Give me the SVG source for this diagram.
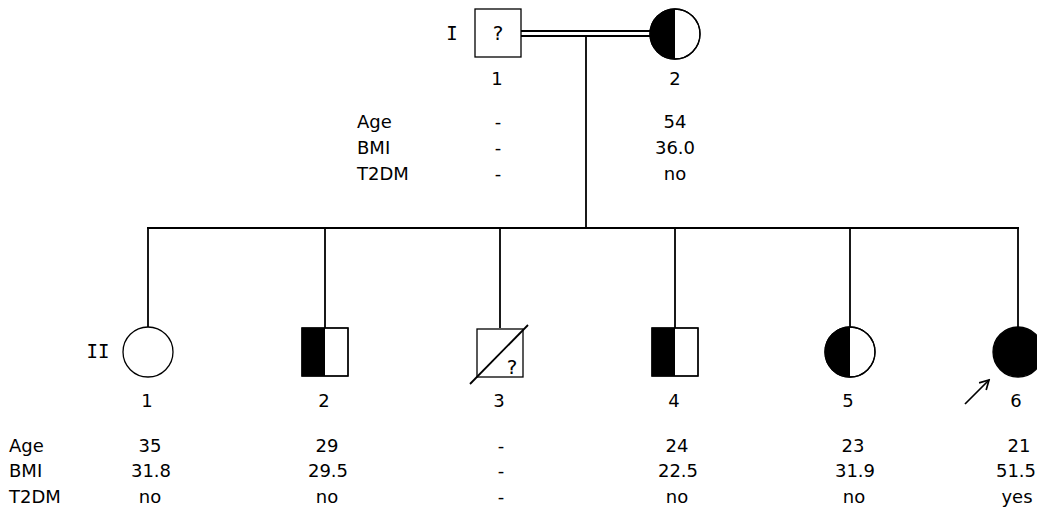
<svg xmlns="http://www.w3.org/2000/svg" width="1037" height="510" viewBox="0 0 1037 510">
<style>
text{font-family:"DejaVu Sans","Liberation Sans",sans-serif;font-size:18px;fill:#000}
.c{text-anchor:middle}
.q{font-size:20px}
.r{font-family:"DejaVu Sans Mono","Liberation Mono",monospace;font-size:19px;text-anchor:middle}
.s{fill:#fff;stroke:#000;stroke-width:1.3}
.k{fill:#000;stroke:none}
.ln{stroke:#000;stroke-width:1.8;fill:none}
</style>
<defs>
<marker id="ah" markerWidth="12" markerHeight="12" refX="10" refY="6" orient="auto" markerUnits="userSpaceOnUse">
<path d="M1,1 L10,6 L1,11" fill="none" stroke="#000" stroke-width="1.7"/>
</marker>
</defs>
<g id="connectors">
<line class="ln" x1="521" y1="31" x2="651" y2="31"/>
<line class="ln" x1="521" y1="36" x2="651" y2="36"/>
<line class="ln" x1="586" y1="36" x2="586" y2="228"/>
<line class="ln" x1="147" y1="228" x2="1019" y2="228"/>
<line class="ln" x1="148" y1="228" x2="148" y2="327"/>
<line class="ln" x1="325" y1="228" x2="325" y2="328"/>
<line class="ln" x1="500" y1="228" x2="500" y2="328"/>
<line class="ln" x1="675" y1="228" x2="675" y2="328"/>
<line class="ln" x1="850" y1="228" x2="850" y2="327"/>
<line class="ln" x1="1018" y1="228" x2="1018" y2="327"/>
</g>
<text class="r" x="452" y="40">I</text>
<text class="r" x="98" y="358">II</text>
<g id="I-1">
<rect class="s" x="475" y="9" width="46" height="48"/>
<text class="c q" x="498" y="40">?</text>
<text class="c" x="497" y="85">1</text>
</g>
<g id="I-2">
<circle class="s" cx="675" cy="34" r="25"/>
<path class="k" d="M675,9 A25,25 0 0 0 675,59 Z"/>
<circle cx="675" cy="34" r="25" fill="none" stroke="#000" stroke-width="1.3"/>
<text class="c" x="675" y="85">2</text>
</g>
<g id="table-I">
<text x="357" y="128">Age</text>
<text x="357" y="154">BMI</text>
<text x="357" y="180">T2DM</text>
<text class="c" x="498" y="128">-</text>
<text class="c" x="498" y="154">-</text>
<text class="c" x="498" y="180">-</text>
<text class="c" x="675" y="128">54</text>
<text class="c" x="675" y="154">36.0</text>
<text class="c" x="675" y="180">no</text>
</g>
<g id="II-1">
<circle class="s" cx="148" cy="352" r="25"/>
<text class="c" x="147" y="407">1</text>
</g>
<g id="II-2">
<rect class="s" x="302" y="328" width="46" height="48"/>
<rect class="k" x="302" y="328" width="23" height="48"/>
<rect x="302" y="328" width="46" height="48" fill="none" stroke="#000" stroke-width="1.3"/>
<text class="c" x="324" y="407">2</text>
</g>
<g id="II-3">
<rect class="s" x="477" y="329" width="46" height="48"/>
<text class="c q" x="512" y="374">?</text>
<line class="ln" x1="470" y1="384" x2="528" y2="325"/>
<text class="c" x="499" y="407">3</text>
</g>
<g id="II-4">
<rect class="s" x="652" y="328" width="46" height="48"/>
<rect class="k" x="652" y="328" width="23" height="48"/>
<rect x="652" y="328" width="46" height="48" fill="none" stroke="#000" stroke-width="1.3"/>
<text class="c" x="674" y="407">4</text>
</g>
<g id="II-5">
<circle class="s" cx="850" cy="352" r="25"/>
<path class="k" d="M850,327 A25,25 0 0 0 850,377 Z"/>
<circle cx="850" cy="352" r="25" fill="none" stroke="#000" stroke-width="1.3"/>
<text class="c" x="848" y="407">5</text>
</g>
<g id="II-6">
<circle cx="1018" cy="352" r="25" fill="#000" stroke="#000" stroke-width="1.3"/>
<line x1="965" y1="404" x2="989" y2="380" stroke="#000" stroke-width="1.7" marker-end="url(#ah)"/>
<text class="c" x="1016" y="407">6</text>
</g>
<g id="table-II">
<text x="9" y="452">Age</text>
<text x="9" y="477">BMI</text>
<text x="9" y="503">T2DM</text>
<text class="c" x="150" y="452">35</text>
<text class="c" x="151" y="477">31.8</text>
<text class="c" x="150" y="503">no</text>
<text class="c" x="327" y="452">29</text>
<text class="c" x="328" y="477">29.5</text>
<text class="c" x="327" y="503">no</text>
<text class="c" x="501" y="452">-</text>
<text class="c" x="501" y="477">-</text>
<text class="c" x="501" y="503">-</text>
<text class="c" x="677" y="452">24</text>
<text class="c" x="678" y="477">22.5</text>
<text class="c" x="677" y="503">no</text>
<text class="c" x="853" y="452">23</text>
<text class="c" x="855" y="477">31.9</text>
<text class="c" x="854" y="503">no</text>
<text class="c" x="1019" y="452">21</text>
<text class="c" x="1016" y="477">51.5</text>
<text class="c" x="1017" y="503">yes</text>
</g>
</svg>
